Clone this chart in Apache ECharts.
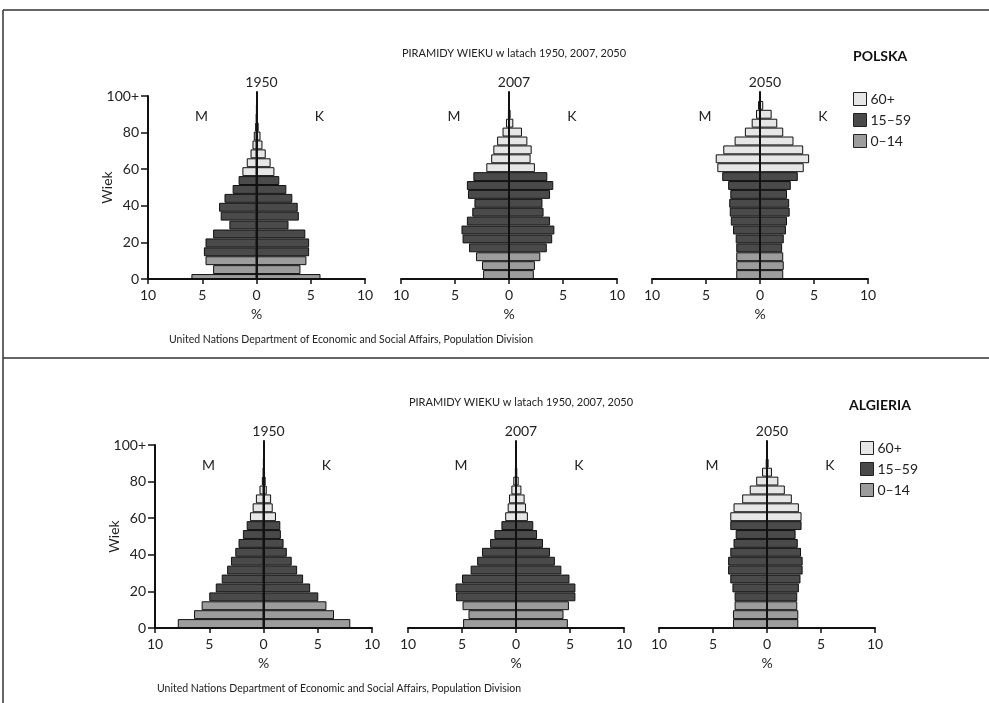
<!DOCTYPE html>
<html>
<head>
<meta charset="utf-8">
<title>Piramidy wieku</title>
<script src="https://cdn.jsdelivr.net/npm/echarts@6/dist/echarts.min.js"></script>
<style>
  html, body { margin: 0; padding: 0; background: #fff; }
  #pyramid-chart { width: 989px; height: 703px; }
</style>
</head>
<body>
<div id="pyramid-chart"></div>
<script>
// grupy wieku, od dołu
const ageGroups = ['0-4', '5-9', '10-14', '15-19', '20-24', '25-29', '30-34', '35-39', '40-44', '45-49',
  '50-54', '55-59', '60-64', '65-69', '70-74', '75-79', '80-84', '85-89', '90-94', '95-99', '100+']
const groupNames = ['60+', '15–59', '0–14']
const years = ['1950', '2007', '2050']
const countries = ['POLSKA', 'ALGIERIA']
const ageTicks = [0, 20, 40, 60, 80, 100]
const percentTicks = [-10, -5, 0, 5, 10]

// % populacji, M - mężczyźni, K - kobiety
const polska1950M = [6.0, 4.0, 4.7, 4.85, 4.7, 4.0, 2.5, 3.3, 3.45, 2.95, 2.2, 1.65, 1.3, 0.9, 0.55, 0.37, 0.25, 0.12, 0.04, 0.01, 0]
const polska1950K = [5.9, 4.05, 4.6, 4.85, 4.85, 4.5, 2.95, 3.9, 3.8, 3.3, 2.75, 2.1, 1.65, 1.3, 0.85, 0.55, 0.37, 0.2, 0.06, 0.01, 0]
const polska2007M = [2.4, 2.5, 3.05, 3.7, 4.3, 4.4, 3.9, 3.4, 3.2, 3.8, 3.9, 3.3, 2.1, 1.65, 1.45, 1.1, 0.6, 0.28, 0.1, 0.02, 0]
const polska2007K = [2.3, 2.4, 2.9, 3.5, 4.0, 4.2, 3.8, 3.2, 3.1, 3.8, 4.1, 3.55, 2.4, 2.0, 2.1, 1.7, 1.2, 0.4, 0.15, 0.04, 0]
const polska2050M = [2.2, 2.2, 2.2, 2.2, 2.25, 2.5, 2.7, 2.8, 2.85, 2.75, 2.95, 3.5, 3.95, 4.1, 3.4, 2.35, 1.4, 0.77, 0.37, 0.18, 0.02]
const polska2050K = [2.15, 2.2, 2.15, 2.05, 2.2, 2.4, 2.5, 2.75, 2.7, 2.5, 2.85, 3.5, 4.05, 4.55, 4.0, 3.1, 2.15, 1.6, 1.08, 0.3, 0.05]

const algieria1950M = [7.9, 6.4, 5.7, 5.0, 4.4, 3.85, 3.35, 3.0, 2.6, 2.3, 1.9, 1.55, 1.25, 1.0, 0.7, 0.37, 0.15, 0.05, 0.01, 0, 0]
const algieria1950K = [8.0, 6.5, 5.8, 5.05, 4.3, 3.65, 3.1, 2.6, 2.15, 1.85, 1.6, 1.55, 1.15, 0.85, 0.7, 0.3, 0.2, 0.08, 0.02, 0, 0]
const algieria2007M = [4.9, 4.4, 4.95, 5.55, 5.6, 5.0, 4.2, 3.6, 3.15, 2.4, 2.0, 1.35, 1.0, 0.77, 0.65, 0.43, 0.25, 0.1, 0.03, 0, 0]
const algieria2007K = [4.8, 4.4, 4.9, 5.5, 5.5, 4.95, 4.2, 3.6, 3.15, 2.5, 1.95, 1.6, 1.1, 0.93, 0.8, 0.5, 0.25, 0.12, 0.04, 0, 0]
const algieria2050M = [3.15, 3.15, 3.0, 3.0, 3.2, 3.4, 3.6, 3.6, 3.4, 3.1, 2.9, 3.4, 3.4, 3.1, 2.3, 1.6, 1.0, 0.46, 0.12, 0.03, 0]
const algieria2050K = [2.9, 2.9, 2.8, 2.8, 2.95, 3.1, 3.3, 3.3, 3.15, 2.85, 2.65, 3.2, 3.2, 2.95, 2.3, 1.65, 1.05, 0.46, 0.15, 0.04, 0]

const pyramidData = {
  POLSKA: {
    1950: [polska1950M, polska1950K],
    2007: [polska2007M, polska2007K],
    2050: [polska2050M, polska2050K]
  },
  ALGIERIA: {
    1950: [algieria1950M, algieria1950K],
    2007: [algieria2007M, algieria2007K],
    2050: [algieria2050M, algieria2050K]
  }
}

const FONT = 'Lato, "Noto Sans", sans-serif'
const TEXT_COLOR = '#222'
const LINE_COLOR = '#111'
const groupColors = { '60+': '#e6e6e6', '15–59': '#4a4a4a', '0–14': '#9c9c9c' }

// kolor słupka wg grupy wieku
function colorByAge(params) {
  if (params.dataIndex < 3) return groupColors['0–14']
  if (params.dataIndex < 12) return groupColors['15–59']
  return groupColors['60+']
}

// układ paneli
const panelLeft = [148, 401, 652]
const panelWidth = [217, 216, 216]

let chart = null

function initChart() {
  if (chart) {
    chart.dispose()
    chart = null
  }
  chart = echarts.init(document.getElementById('pyramid-chart'))
}

function getOptions() {
  const grid = []
  const xAxis = []
  const yAxis = []
  const series = []
  const title = []
  const legend = []

  countries.forEach((country, c) => {
    const dx = c * 7
    const dy = c * 349
    const zeroY = 279 + dy

    title.push({
      text: 'PIRAMIDY WIEKU w latach 1950, 2007, 2050',
      left: 509 + dx,
      top: 43 + dy,
      textAlign: 'center',
      textStyle: { fontFamily: FONT, fontSize: 11, fontWeight: 'normal', color: TEXT_COLOR }
    })
    title.push({
      text: country,
      left: c === 0 ? 848 : 844,
      top: 44 + dy,
      textStyle: { fontFamily: FONT, fontSize: 14, fontWeight: 'bold', color: '#111' }
    })
    title.push({
      text: 'United Nations Department of Economic and Social Affairs, Population Division',
      left: c === 0 ? 164 : 152,
      top: 329 + dy,
      textStyle: { fontFamily: FONT, fontSize: 10.5, fontWeight: 'normal', color: TEXT_COLOR }
    })

    legend.push({
      orient: 'vertical',
      left: 848 + dx,
      top: 87 + dy,
      itemWidth: 13,
      itemHeight: 13,
      itemGap: 7,
      icon: 'rect',
      selectedMode: false,
      data: groupNames,
      itemStyle: { borderColor: '#222', borderWidth: 1 },
      textStyle: { fontFamily: FONT, fontSize: 14, color: TEXT_COLOR, padding: [0, 0, 0, -1] }
    })

    years.forEach((year, i) => {
      const left = panelLeft[i] + dx
      const width = panelWidth[i]
      const mid = left + width / 2
      const [male, female] = pyramidData[country][year]

      title.push({
        text: year,
        left: mid,
        top: 70 + dy,
        textAlign: 'center',
        textStyle: { fontFamily: FONT, fontSize: 14, fontWeight: 'normal', color: TEXT_COLOR }
      })
      title.push({
        text: 'M',
        left: mid - 60,
        top: 104 + dy,
        textAlign: 'center',
        textStyle: { fontFamily: FONT, fontSize: 14, fontWeight: 'normal', color: TEXT_COLOR }
      })
      title.push({
        text: 'K',
        left: mid + 58,
        top: 104 + dy,
        textAlign: 'center',
        textStyle: { fontFamily: FONT, fontSize: 14, fontWeight: 'normal', color: TEXT_COLOR }
      })

      // piramida
      const idx = grid.length
      grid.push({ left: left, width: width, top: zeroY - 187, height: 187 })
      xAxis.push({
        gridIndex: idx,
        type: 'value',
        min: percentTicks[0],
        max: percentTicks[percentTicks.length - 1],
        interval: 5,
        z: 5,
        name: '%',
        nameLocation: 'middle',
        nameGap: 28,
        nameMoveOverlap: false,
        nameTextStyle: { fontFamily: FONT, fontSize: 14, color: TEXT_COLOR },
        axisLine: { show: true, onZero: false, lineStyle: { color: LINE_COLOR, width: 2 } },
        axisTick: { show: true, length: 5, lineStyle: { color: LINE_COLOR, width: 1.5 } },
        axisLabel: {
          margin: 9,
          fontFamily: FONT,
          fontSize: 14,
          color: TEXT_COLOR,
          formatter: v => Math.abs(v)
        },
        splitLine: { show: false }
      })
      yAxis.push({
        gridIndex: idx,
        type: 'category',
        data: ageGroups,
        z: 5,
        axisLine: { show: true, onZero: true, lineStyle: { color: LINE_COLOR, width: 2 } },
        axisTick: { show: false },
        axisLabel: { show: false },
        splitLine: { show: false }
      })
      series.push({
        name: 'M',
        type: 'bar',
        xAxisIndex: idx,
        yAxisIndex: idx,
        data: male.map(v => -v),
        barWidth: '100%',
        barGap: '-100%',
        itemStyle: { color: colorByAge, borderColor: LINE_COLOR, borderWidth: 1 }
      })
      series.push({
        name: 'K',
        type: 'bar',
        xAxisIndex: idx,
        yAxisIndex: idx,
        data: female,
        barWidth: '100%',
        barGap: '-100%',
        itemStyle: { color: colorByAge, borderColor: LINE_COLOR, borderWidth: 1 }
      })

      // oś wieku tylko przy pierwszym panelu
      if (i === 0) {
        const ageIdx = grid.length
        grid.push({ left: left, width: width, top: zeroY - 183, height: 183 })
        xAxis.push({ gridIndex: ageIdx, type: 'value', min: 0, max: 1, show: false })
        yAxis.push({
          gridIndex: ageIdx,
          type: 'value',
          min: ageTicks[0],
          max: ageTicks[ageTicks.length - 1],
          interval: 20,
          position: 'left',
          name: 'Wiek',
          nameLocation: 'middle',
          nameGap: 34,
          nameRotate: 90,
          nameMoveOverlap: false,
          nameTextStyle: { fontFamily: FONT, fontSize: 14, color: TEXT_COLOR },
          axisLine: { show: true, onZero: false, lineStyle: { color: LINE_COLOR, width: 2 } },
          axisTick: { show: true, length: 7, lineStyle: { color: LINE_COLOR, width: 1.5 } },
          axisLabel: {
            margin: 9,
            fontFamily: FONT,
            fontSize: 14,
            color: TEXT_COLOR,
            formatter: v => (v === 100 ? '100+' : v)
          },
          splitLine: { show: false }
        })
      }
    })
  })

  // puste serie tylko dla legendy
  groupNames.forEach(name => {
    series.push({
      name: name,
      type: 'bar',
      xAxisIndex: 0,
      yAxisIndex: 0,
      data: [],
      itemStyle: { color: groupColors[name], borderColor: '#222', borderWidth: 1 }
    })
  })

  return {
    animation: false,
    backgroundColor: '#fff',
    title: title,
    legend: legend,
    tooltip: {
      trigger: 'item',
      formatter: p => p.seriesName + ' ' + p.name + ': ' + Math.abs(p.value) + '%'
    },
    grid: grid,
    xAxis: xAxis,
    yAxis: yAxis,
    series: series,
    graphic: [
      // ramka i linia podziału
      { type: 'line', shape: { x1: 3, y1: 10, x2: 989, y2: 10 }, style: { stroke: '#333', lineWidth: 1.5 } },
      { type: 'line', shape: { x1: 3, y1: 10, x2: 3, y2: 703 }, style: { stroke: '#333', lineWidth: 1.5 } },
      { type: 'line', shape: { x1: 3, y1: 358, x2: 989, y2: 358 }, style: { stroke: '#333', lineWidth: 1.5 } }
    ]
  }
}

initChart()
chart.setOption(getOptions())
</script>
</body>
</html>
